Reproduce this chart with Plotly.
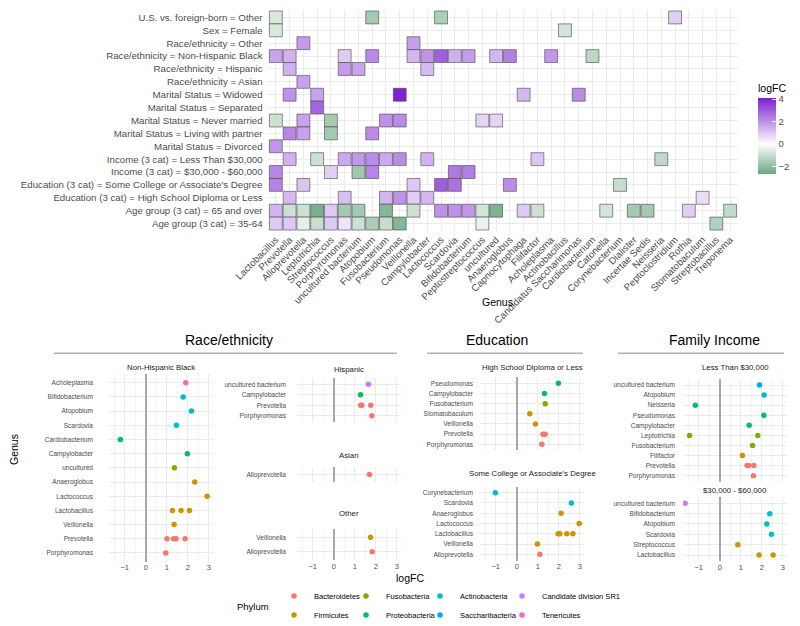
import plotly.graph_objects as go

# the page body has an 8px margin, so the figure is drawn 8px smaller and all
# positions below are given in window pixels of the 800x626 screenshot
OFF = 8
FW, FH = 800 - OFF, 626 - OFF

# ---------------- heatmap: genus x covariate ----------------
genera = ["Lactobacillus", "Prevotella", "Alloprevotella", "Leptotrichia", "Streptococcus",
          "Porphyromonas", "uncultured bacterium", "Atopobium", "Fusobacterium", "Pseudomonas",
          "Veillonella", "Campylobacter", "Lactococcus", "Scardovia", "Bifidobacterium",
          "Peptostreptococcus", "uncultured", "Anaeroglobus", "Capnocytophaga", "Filifactor",
          "Acholeplasma", "Actinobacillus", "Candidatus Saccharimonas", "Cardiobacterium",
          "Catonella", "Corynebacterium", "Dialister", "Incertae Sedis", "Neisseria",
          "Peptoclostridium", "Rothia", "Stomatobaculum", "Streptobacillus", "Treponema"]

covariates = ["U.S. vs. foreign-born = Other",
              "Sex = Female",
              "Race/ethnicity = Other",
              "Race/ethnicity = Non-Hispanic Black",
              "Race/ethnicity = Hispanic",
              "Race/ethnicity = Asian",
              "Marital Status = Widowed",
              "Marital Status = Separated",
              "Marital Status = Never married",
              "Marital Status = Living with partner",
              "Marital Status = Divorced",
              "Income (3 cat) = Less Than $30,000",
              "Income (3 cat) = $30,000 - $60,000",
              "Education (3 cat) = Some College or Associate's Degree",
              "Education (3 cat) = High School Diploma or Less",
              "Age group (3 cat) = 65 and over",
              "Age group (3 cat) = 35-64"]

# one entry per coloured tile (row index into covariates, genus, logFC)
hm_row = ([0] * 4 + [1] * 2 + [2] * 2 + [3] * 13 + [4] * 4 + [5] + [6] * 5 + [7] + [8] * 7
          + [9] * 4 + [10] + [11] * 10 + [12] * 6 + [13] * 7 + [14] * 7 + [15] * 21 + [16] * 12)
hm_genus = [
    "Lactobacillus", "Atopobium", "Lactococcus", "Peptoclostridium",
    "Lactobacillus", "Actinobacillus",
    "Alloprevotella", "Veillonella",
    "Lactobacillus", "Prevotella", "Porphyromonas", "Atopobium", "Veillonella", "Campylobacter",
    "Lactococcus", "Scardovia", "Bifidobacterium", "uncultured", "Anaeroglobus", "Acholeplasma",
    "Cardiobacterium",
    "Prevotella", "Porphyromonas", "uncultured bacterium", "Campylobacter",
    "Alloprevotella",
    "Prevotella", "Leptotrichia", "Pseudomonas", "Capnocytophaga", "Candidatus Saccharimonas",
    "Leptotrichia",
    "Lactobacillus", "Alloprevotella", "Streptococcus", "Fusobacterium", "Pseudomonas",
    "Peptostreptococcus", "uncultured",
    "Prevotella", "Alloprevotella", "Streptococcus", "Atopobium",
    "Lactobacillus",
    "Prevotella", "Leptotrichia", "Porphyromonas", "uncultured bacterium", "Atopobium",
    "Fusobacterium", "Pseudomonas", "Campylobacter", "Filifactor", "Neisseria",
    "Lactobacillus", "Streptococcus", "uncultured bacterium", "Atopobium", "Scardovia",
    "Bifidobacterium",
    "Lactobacillus", "Alloprevotella", "Veillonella", "Lactococcus", "Scardovia", "Anaeroglobus",
    "Corynebacterium",
    "Prevotella", "Porphyromonas", "Fusobacterium", "Pseudomonas", "Veillonella", "Campylobacter",
    "Stomatobaculum",
    "Lactobacillus", "Prevotella", "Alloprevotella", "Leptotrichia", "Streptococcus",
    "Porphyromonas", "uncultured bacterium", "Fusobacterium", "Veillonella", "Lactococcus",
    "Scardovia", "Bifidobacterium", "Peptostreptococcus", "uncultured", "Capnocytophaga",
    "Filifactor", "Catonella", "Dialister", "Incertae Sedis", "Rothia", "Treponema",
    "Lactobacillus", "Prevotella", "Alloprevotella", "Leptotrichia", "Streptococcus",
    "Porphyromonas", "uncultured bacterium", "Atopobium", "Fusobacterium", "Pseudomonas",
    "Peptostreptococcus", "Streptobacillus",
]
hm_logfc = [
    -0.7, -1.6, -1.5, 0.9,
    -0.7, -0.8,
    1.83, 1.75,
    1.68, 1.41, 0.95, 2.17, 1.35, 1.98, 2.92, 1.46, 1.78, 1.36, 2.33, 1.90, -1.21,
    1.45, 1.81, 1.65, 1.27,
    1.70,
    2.0, 1.7, 4.0, 1.3, 2.1,
    2.8,
    -0.9, 1.7, -1.6, 2.0, 2.1, 0.8, 0.8,
    2.2, 1.7, -1.6, 2.1,
    1.9,
    1.43, -0.9, 1.60, 1.89, 2.11, 1.56, 2.10, 1.40, 1.08, -1.16,
    2.2, 0.86, -1.65, 2.24, 2.46, 2.38,
    2.27, 1.10, 0.98, 2.97, 2.60, 2.11, -1.02,
    1.30, 1.19, 1.35, 1.98, 0.89, 1.32, 0.62,
    1.4, -0.9, -0.9, -2.4, 1.0, -1.6, -1.6, -2.2, -0.9, 2.0, 2.0, 1.9, -0.8, -2.3, 1.0,
    -0.9, -0.8, -1.6, -1.6, 0.9, -1.1,
    1.0, 1.0, -0.5, -1.0, 1.0, 0.5, -0.9, -1.5, -1.0, -2.2, -0.4, -1.4,
]

# ---------------- dot plots ----------------
nhb_genus = ["Acholeplasma", "Bifidobacterium", "Atopobium", "Scardovia", "Cardiobacterium",
             "Campylobacter", "uncultured", "Anaeroglobus", "Lactococcus", "Lactobacillus",
             "Lactobacillus", "Lactobacillus", "Veillonella", "Prevotella", "Prevotella",
             "Prevotella", "Prevotella", "Porphyromonas"]
nhb_logfc = [1.90, 1.78, 2.17, 1.46, -1.21, 1.98, 1.36, 2.33, 2.92, 1.27, 1.68, 2.08, 1.35,
             1.01, 1.32, 1.44, 1.87, 0.95]
nhb_phylum = ["Tenericutes", "Actinobacteria", "Actinobacteria", "Actinobacteria",
              "Proteobacteria", "Proteobacteria", "Fusobacteria", "Firmicutes", "Firmicutes",
              "Firmicutes", "Firmicutes", "Firmicutes", "Firmicutes", "Bacteroidetes",
              "Bacteroidetes", "Bacteroidetes", "Bacteroidetes", "Bacteroidetes"]

hisp_genus = ["uncultured bacterium", "Campylobacter", "Prevotella", "Prevotella", "Prevotella",
              "Porphyromonas"]
hisp_logfc = [1.65, 1.27, 1.28, 1.33, 1.76, 1.81]
hisp_phylum = ["Candidate division SR1", "Proteobacteria", "Bacteroidetes", "Bacteroidetes",
               "Bacteroidetes", "Bacteroidetes"]

asian_genus = ["Alloprevotella"]
asian_logfc = [1.70]
asian_phylum = ["Bacteroidetes"]

other_genus = ["Veillonella", "Alloprevotella"]
other_logfc = [1.75, 1.83]
other_phylum = ["Firmicutes", "Bacteroidetes"]

hs_genus = ["Pseudomonas", "Campylobacter", "Fusobacterium", "Stomatobaculum", "Veillonella",
            "Prevotella", "Prevotella", "Porphyromonas"]
hs_logfc = [1.98, 1.32, 1.35, 0.62, 0.89, 1.25, 1.35, 1.19]
hs_phylum = ["Proteobacteria", "Proteobacteria", "Fusobacteria", "Firmicutes", "Firmicutes",
             "Bacteroidetes", "Bacteroidetes", "Bacteroidetes"]

college_genus = ["Corynebacterium", "Scardovia", "Anaeroglobus", "Lactococcus", "Lactobacillus",
                 "Lactobacillus", "Lactobacillus", "Lactobacillus", "Veillonella", "Alloprevotella"]
college_logfc = [-1.02, 2.60, 2.11, 2.97, 1.97, 2.05, 2.38, 2.67, 0.98, 1.10]
college_phylum = ["Actinobacteria", "Actinobacteria", "Firmicutes", "Firmicutes", "Firmicutes",
                  "Firmicutes", "Firmicutes", "Firmicutes", "Firmicutes", "Bacteroidetes"]

low_genus = ["uncultured bacterium", "Atopobium", "Neisseria", "Pseudomonas", "Campylobacter",
             "Leptotrichia", "Leptotrichia", "Fusobacterium", "Filifactor", "Prevotella",
             "Prevotella", "Prevotella", "Porphyromonas"]
low_logfc = [1.89, 2.11, -1.16, 2.10, 1.40, -1.44, 1.81, 1.56, 1.08, 1.30, 1.38, 1.62, 1.60]
low_phylum = ["Saccharibacteria", "Actinobacteria", "Proteobacteria", "Proteobacteria",
              "Proteobacteria", "Fusobacteria", "Fusobacteria", "Fusobacteria", "Firmicutes",
              "Bacteroidetes", "Bacteroidetes", "Bacteroidetes", "Bacteroidetes"]

mid_genus = ["uncultured bacterium", "Bifidobacterium", "Atopobium", "Scardovia",
             "Streptococcus", "Lactobacillus", "Lactobacillus"]
mid_logfc = [-1.65, 2.38, 2.24, 2.46, 0.86, 1.87, 2.54]
mid_phylum = ["Candidate division SR1", "Actinobacteria", "Actinobacteria", "Actinobacteria",
              "Firmicutes", "Firmicutes", "Firmicutes"]

phyla = ["Bacteroidetes", "Firmicutes", "Fusobacteria", "Proteobacteria", "Actinobacteria",
         "Saccharibacteria", "Candidate division SR1", "Tenericutes"]
phylum_colors = ["#F8766D", "#CD9600", "#7CAE00", "#00BE67", "#00BFC4", "#00A9FF", "#C77CFF",
                 "#FF61CC"]


def fx(x):
    return (x - OFF) / FW


def fy(y):
    return 1 - (y - OFF) / FH


FONT = "Liberation Sans, Arial, sans-serif"
GRID = "#ebebeb"
TXT = "#4d4d4d"

fig = go.Figure()

# heatmap tiles as square markers
fig.add_trace(go.Scatter(
    x=hm_genus, y=[covariates[r] for r in hm_row], mode="markers",
    marker=dict(symbol="square", size=12.9, color=hm_logfc, cmin=-2.65, cmax=4.1,
                colorscale=[[0, "#6aa880"], [2.65 / 6.75, "#ffffff"], [1, "#7a1fd0"]],
                line=dict(color="rgba(70,70,70,0.75)", width=0.8),
                colorbar=dict(title=dict(text="logFC", side="top", font=dict(size=10.5, color="black")),
                              thickness=18, len=93, lenmode="pixels",
                              x=fx(758), xanchor="left", y=fy(127.5), yanchor="middle",
                              tickvals=[-2, 0, 2, 4], ticks="inside", tickcolor="white",
                              ticklen=4, outlinewidth=0, tickfont=dict(size=9.5, color=TXT),
                              xpad=0, ypad=0)),
    showlegend=False, xaxis="x", yaxis="y"))

layout_axes = dict(
    xaxis=dict(domain=[fx(267.6), fx(738.4)], anchor="y", type="category", automargin=False,
               categoryorder="array", categoryarray=genera, range=[-0.6, len(genera) - 0.4],
               tickangle=-45, tickfont=dict(size=9.7, color=TXT), showgrid=True,
               gridcolor=GRID, ticks="", showline=False, zeroline=False),
    yaxis=dict(domain=[fy(231.3), fy(9.7)], anchor="x", type="category", automargin=False,
               categoryorder="array", categoryarray=covariates,
               range=[len(covariates) - 0.4, -0.6], tickfont=dict(size=9.7, color=TXT),
               showgrid=True, gridcolor=GRID, ticks="", ticklabelstandoff=4,
               showline=False, zeroline=False),
)

# panel: title, data, (left, right, top, bottom) px, show x labels, title y, label standoff
panels = [
    ("Non-Hispanic Black", nhb_genus, nhb_logfc, nhb_phylum, (109, 213, 374.2, 561.5), True, 367, 15),
    ("Hispanic", hisp_genus, hisp_logfc, hisp_phylum, (297, 401, 378, 422), False, 369, 10),
    ("Asian", asian_genus, asian_logfc, asian_phylum, (297, 401, 467, 482), False, 455, 10),
    ("Other", other_genus, other_logfc, other_phylum, (297, 401, 528.7, 560.3), True, 513, 10),
    ("High School Diploma or Less", hs_genus, hs_logfc, hs_phylum, (480, 584, 377.2, 450.4), False, 367.7, 6),
    ("Some College or Associate's Degree", college_genus, college_logfc, college_phylum,
     (480, 584, 486.5, 560.5), True, 473.3, 6),
    ("Less Than $30,000", low_genus, low_logfc, low_phylum, (683, 787, 379, 481.7), False, 367.7, 7),
    ("$30,000 - $60,000", mid_genus, mid_logfc, mid_phylum, (683, 787, 497.1, 561.2), True, 490.3, 7),
]

legend_of = {"Bacteroidetes": "legend", "Firmicutes": "legend", "Fusobacteria": "legend2",
             "Proteobacteria": "legend2", "Actinobacteria": "legend3", "Saccharibacteria": "legend3",
             "Candidate division SR1": "legend4", "Tenericutes": "legend4"}
seen = set()
annotations = []


def note(text, x, y, size, color="black", **kw):
    annotations.append(dict(text=text, x=fx(x), y=fy(y), xref="paper", yref="paper",
                            xanchor="center", yanchor="middle", showarrow=False, borderpad=0,
                            font=dict(size=size, color=color), **kw))


for i, (title, genus, logfc, phylum, (l, r, t, b), show_x, ty, standoff) in enumerate(panels, start=2):
    cats = list(dict.fromkeys(genus))
    for ph, col in zip(phyla, phylum_colors):
        xs = [v for v, p in zip(logfc, phylum) if p == ph]
        ys = [g for g, p in zip(genus, phylum) if p == ph]
        if not xs:
            continue
        fig.add_trace(go.Scatter(
            x=xs, y=ys, mode="markers", name=ph, legendgroup=ph,
            legend=legend_of[ph], legendrank=phyla.index(ph) + 1,
            showlegend=ph not in seen,
            marker=dict(color=col, size=5.5),
            xaxis=f"x{i}", yaxis=f"y{i}"))
        seen.add(ph)
    layout_axes[f"xaxis{i}"] = dict(
        domain=[fx(l), fx(r)], anchor=f"y{i}", range=[-1.75, 3.2], tickvals=[-1, 0, 1, 2, 3],
        showticklabels=show_x, tickfont=dict(size=7.5, color=TXT), showgrid=True,
        gridcolor=GRID, ticks="", showline=False, zeroline=True, zerolinecolor="#a8a8a8",
        zerolinewidth=1.5, automargin=False,
        minor=dict(dtick=0.5, showgrid=True, gridcolor="#f4f4f4"))
    layout_axes[f"yaxis{i}"] = dict(
        domain=[fy(b), fy(t)], anchor=f"x{i}", type="category", categoryorder="array",
        categoryarray=cats, range=[len(cats) - 0.4, -0.6], tickfont=dict(size=6.6, color=TXT),
        showgrid=True, gridcolor=GRID, ticks="", ticklabelstandoff=standoff,
        showline=False, zeroline=False, automargin=False)
    note(title, (l + r) / 2, ty, 7.8, "#1a1a1a")

# group titles
for text, cx in [("Race/ethnicity", 229), ("Education", 497), ("Family Income", 714)]:
    note(text, cx, 340, 14)

note("Genus", 497, 302, 10.5)
note("Genus", 14, 450, 10.5, textangle=-90)
note("logFC", 410, 578, 10.5)
note("Phylum", 253, 606, 9.5)

shapes = [dict(type="line", xref="paper", yref="paper", x0=fx(a), x1=fx(c), y0=fy(353.3),
               y1=fy(353.3), line=dict(color="#b3b3b3", width=1.6))
          for a, c in [(54, 397), (427, 583), (618, 784)]]

leg_style = dict(orientation="v", yanchor="top", y=fy(581.5), xanchor="left",
                 font=dict(size=7.5, color="black"), bgcolor="rgba(0,0,0,0)",
                 itemwidth=30, tracegroupgap=0)

fig.update_layout(
    width=FW, height=FH, margin=dict(l=0, r=0, t=0, b=0, autoexpand=False),
    paper_bgcolor="white", plot_bgcolor="white",
    font=dict(family=FONT, color=TXT),
    annotations=annotations, shapes=shapes,
    legend=dict(x=fx(274), **leg_style),
    legend2=dict(x=fx(346), **leg_style),
    legend3=dict(x=fx(420), **leg_style),
    legend4=dict(x=fx(502), **leg_style),
    **layout_axes,
)

fig.write_html("out.html")
